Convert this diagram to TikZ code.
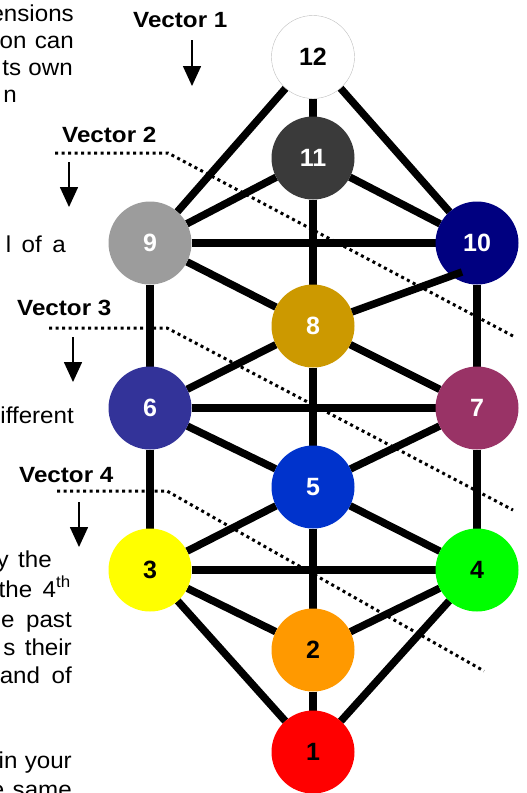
\documentclass[tikz,border=0pt]{standalone}
\usepackage{fontspec}
\setmainfont{Liberation Sans}
\usetikzlibrary{positioning, arrows.meta, backgrounds}
\definecolor{grey11}{HTML}{3A3A3A}
\definecolor{navy10}{HTML}{000080}
\definecolor{grey9}{HTML}{9C9C9C}
\definecolor{gold8}{HTML}{CC9900}
\definecolor{plum7}{HTML}{993366}
\definecolor{indigo6}{HTML}{333399}
\definecolor{blue5}{HTML}{0033CC}
\definecolor{lime4}{HTML}{00FF00}
\definecolor{yellow3}{HTML}{FFFF00}
\definecolor{orange2}{HTML}{FF9900}
\definecolor{red1}{HTML}{FF0000}
\newcommand{\widelabel}[1]{\scalebox{1.1}[1]{#1}}
\newcommand{\widetext}[1]{\scalebox{1.05}[1]{#1}}
\tikzset{
sphere/.style = {circle, inner sep = 0pt, outer sep = 0pt, minimum size = 83pt,
   font = \bfseries\fontsize{25}{25}\selectfont},
link/.style = {line width = 7.5pt},
boundary/.style = {line width = 3pt, dash pattern = on 3pt off 3.5pt},
descent/.style = {-{Triangle[length = 20pt, width = 18pt]}, line width = 1.6pt},
vlabel/.style = {anchor = base west, inner sep = 0pt,
   font = \bfseries\fontsize{22}{26}\selectfont},
bodytext/.style = {anchor = base east, inner sep = 0pt,
   font = \fontsize{23}{27}\selectfont}
}

\begin{document}
\begin{tikzpicture}[x = 1pt, y = -1pt]
\useasboundingbox (0,0) rectangle (527,793);

%%%% Spheres
%% Middle column
\node [sphere, fill = white, draw = black!25, thin] (n12) at (313,57) {12};
\node [sphere, fill = grey11, text = white] (n11) [below = 18pt of n12] {11};
\node [sphere, fill = gold8, text = white] (n8) [below = 85pt of n11] {8};
\node [sphere, fill = blue5, text = white] (n5) [below = 78pt of n8] {5};
\node [sphere, fill = orange2] (n2) [below = 80pt of n5] {2};
\node [sphere, fill = red1] (n1) [below = 19pt of n2] {1};

%% Left and right columns
\node [sphere, fill = grey9, text = white] (n9) at (150,243) {9};
\node [sphere, fill = navy10, text = white] (n10) [right = 244pt of n9] {10};
\node [sphere, fill = indigo6, text = white] (n6) [below = 82pt of n9] {6};
\node [sphere, fill = plum7, text = white] (n7) [right = 244pt of n6] {7};
\node [sphere, fill = yellow3] (n3) [below = 79pt of n6] {3};
\node [sphere, fill = lime4] (n4) [right = 244pt of n3] {4};

%%%% Paths
\begin{scope}[on background layer]
\path [link] (n12) edge (n11);
\path [link] (n12) edge (n9);
\path [link] (n12) edge (n10);
\path [link] (n11) edge (n9);
\path [link] (n11) edge (n10);
\path [link] (n11) edge (n8);
\path [link] (n9) edge (n10);
\path [link] (n9) edge (n8);
\path [link] (n9) edge (n6);
\path [link] (n10) edge (n7);
\path [link] (n8) edge (n6);
\path [link] (n8) edge (n7);
\path [link] (n8) edge (n5);
\path [link] (n6) edge (n7);
\path [link] (n6) edge (n5);
\path [link] (n6) edge (n3);
\path [link] (n7) edge (n5);
\path [link] (n7) edge (n4);
\path [link] (n5) edge (n3);
\path [link] (n5) edge (n4);
\path [link] (n5) edge (n2);
\path [link] (n3) edge (n4);
\path [link] (n3) edge (n2);
\path [link] (n3) edge (n1);
\path [link] (n4) edge (n2);
\path [link] (n4) edge (n1);
\path [link] (n2) edge (n1);
\end{scope}

%% 8 to 10 runs over the sphere
\coordinate (tip10) at (462,272);
\path [link] (n8) edge (tip10);

%%%% Vectors
\node [vlabel] (vec1) at (133,27) {\widelabel{Vector 1}};
\coordinate (d1s) at (192,40);
\coordinate (d1e) at (192,86);
\draw [descent] (d1s) -- (d1e);

\node [vlabel] (vec2) at (62,142) {\widelabel{Vector 2}};
\coordinate (b2s) at (55,153);
\coordinate (b2k) at (168,153);
\coordinate (b2e) at (513,336);
\draw [boundary] (b2s) -- (b2k) -- (b2e);
\coordinate (d2s) at (69,162);
\coordinate (d2e) at (69,207);
\draw [descent] (d2s) -- (d2e);

\node [vlabel] (vec3) at (17,315) {\widelabel{Vector 3}};
\coordinate (b3s) at (49,328);
\coordinate (b3k) at (167,328);
\coordinate (b3e) at (513,510);
\draw [boundary] (b3s) -- (b3k) -- (b3e);
\coordinate (d3s) at (73,337);
\coordinate (d3e) at (73,382);
\draw [descent] (d3s) -- (d3e);

\node [vlabel] (vec4) at (19,482) {\widelabel{Vector 4}};
\coordinate (b4s) at (57,491);
\coordinate (b4k) at (167,491);
\coordinate (b4e) at (484,671);
\draw [boundary] (b4s) -- (b4k) -- (b4e);
\coordinate (d4s) at (79,502);
\coordinate (d4e) at (79,547);
\draw [descent] (d4s) -- (d4e);

%%%% Text column
\node [bodytext] (t1) at (74,21) {\widetext{ensions}};
\node [bodytext] (t2) at (74,48) {\widetext{on\hspace{8pt}can}};
\node [bodytext] (t3) at (73,75) {\widetext{ts\hspace{7pt}own}};
\node [bodytext] (t4) at (17,102) {\widetext{n}};
\node [bodytext] (t5) at (66,252) {\widetext{l\hspace{10pt}of\hspace{10pt}a}};
\node [bodytext] (t6) at (74,423) {\widetext{ifferent}};
\node [bodytext] (t7) at (52,567) {\widetext{y\hspace{9pt}the}};
\node [bodytext] (t8) at (71,597) {\widetext{the\hspace{10pt}4\textsuperscript{th}}};
\node [bodytext] (t9) at (72,627) {\widetext{e\hspace{11pt}past}};
\node [bodytext] (t10) at (72,655) {\widetext{s\hspace{9pt}their}};
\node [bodytext] (t11) at (72,683) {\widetext{and\hspace{11pt}of}};
\node [bodytext] (t12) at (72,768) {\widetext{in\hspace{7pt}your}};
\node [bodytext] (t13) at (72,797) {\widetext{e\hspace{8pt}same}};

\end{tikzpicture}
\end{document}
